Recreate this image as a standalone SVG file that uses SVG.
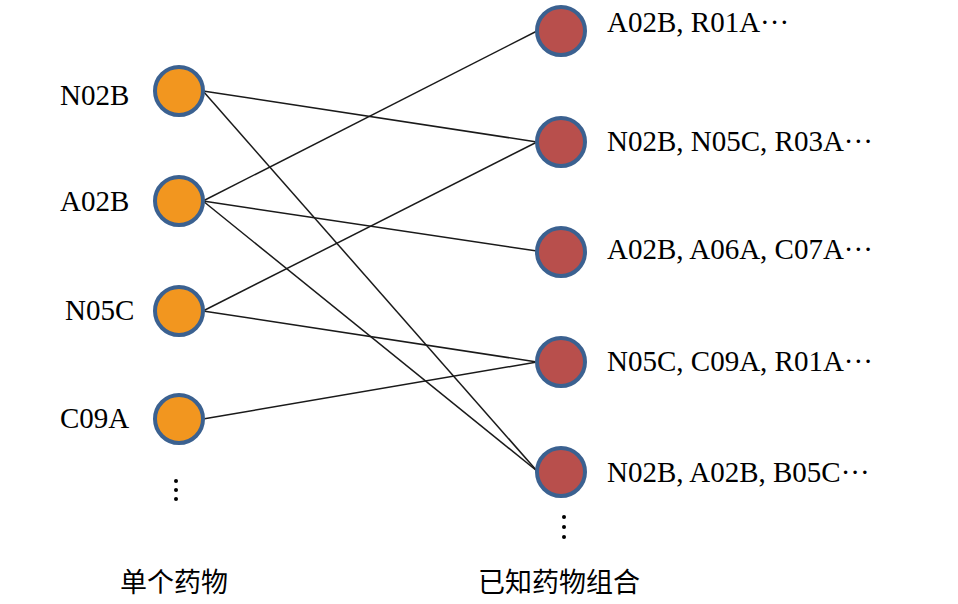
<svg xmlns="http://www.w3.org/2000/svg" width="958" height="604" viewBox="0 0 958 604">
<style>
.lab{font-family:"Liberation Serif","Times New Roman",serif;font-size:29px;fill:#000}
.cjk{font-family:"Noto Sans CJK SC","Noto Sans CJK JP",sans-serif;font-size:27px;fill:#000}
.single{fill:#f2961f;stroke:#3b6190;stroke-width:4}
.combo{fill:#b84f4c;stroke:#3b6190;stroke-width:4}
.edge{stroke:#1a1a1a;stroke-width:1.5;fill:none}
.dot{fill:#000}
</style>
<rect width="958" height="604" fill="#fff"/>
<g id="connectors">
<line class="edge" x1="203" y1="91" x2="537" y2="142"/>
<line class="edge" x1="203" y1="91" x2="537" y2="471"/>
<line class="edge" x1="203" y1="201" x2="537" y2="31"/>
<line class="edge" x1="203" y1="201" x2="537" y2="251"/>
<line class="edge" x1="203" y1="201" x2="537" y2="471"/>
<line class="edge" x1="203" y1="311" x2="537" y2="142"/>
<line class="edge" x1="203" y1="311" x2="537" y2="362"/>
<line class="edge" x1="203" y1="419" x2="537" y2="362"/>
</g>
<g id="n-N02B"><circle class="single" cx="179" cy="91" r="24"/><text class="lab" x="60" y="105">N02B</text></g>
<g id="n-A02B"><circle class="single" cx="179" cy="201" r="24"/><text class="lab" x="60" y="211">A02B</text></g>
<g id="n-N05C"><circle class="single" cx="179" cy="311" r="24"/><text class="lab" x="65" y="320">N05C</text></g>
<g id="n-C09A"><circle class="single" cx="179" cy="419" r="24"/><text class="lab" x="60" y="428">C09A</text></g>
<g id="n-left-more"><circle class="dot" cx="176" cy="481" r="2"/><circle class="dot" cx="176" cy="490" r="2"/><circle class="dot" cx="176" cy="499" r="2"/></g>
<g id="c1"><circle class="combo" cx="561" cy="31" r="24"/><text class="lab" x="607" y="32">A02B, R01A···</text></g>
<g id="c2"><circle class="combo" cx="561" cy="142" r="24"/><text class="lab" x="607" y="151">N02B, N05C, R03A···</text></g>
<g id="c3"><circle class="combo" cx="561" cy="252" r="24"/><text class="lab" x="607" y="259">A02B, A06A, C07A···</text></g>
<g id="c4"><circle class="combo" cx="561" cy="362" r="24"/><text class="lab" x="607" y="371">N05C, C09A, R01A···</text></g>
<g id="c5"><circle class="combo" cx="561" cy="472" r="24"/><text class="lab" x="607" y="482">N02B, A02B, B05C···</text></g>
<g id="c-more"><circle class="dot" cx="564" cy="517" r="2"/><circle class="dot" cx="564" cy="527" r="2"/><circle class="dot" cx="564" cy="537" r="2"/></g>
<g id="titles">
<text class="cjk" x="120" y="592">单个药物</text>
<text class="cjk" x="478" y="592">已知药物组合</text>
</g>
</svg>
